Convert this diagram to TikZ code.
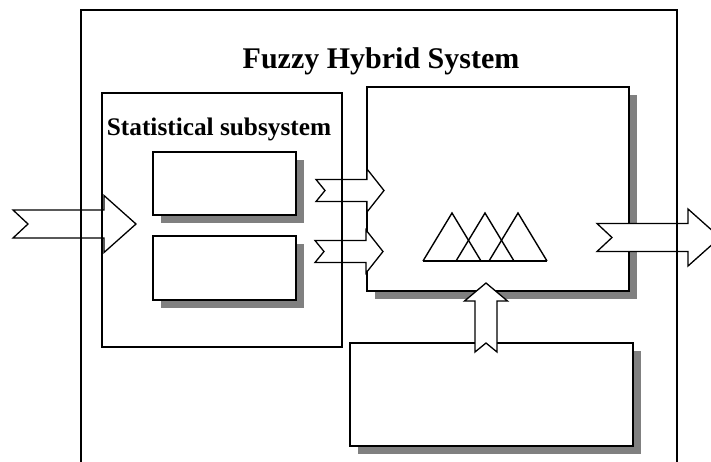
\documentclass[tikz,border=0pt]{standalone}
\usepackage{fontspec}
\setmainfont{Liberation Serif}
\usetikzlibrary{shadows}

\tikzset{
  pics/notcharrow/.style n args={5}{code={
    % #1 length, #2 half shaft, #3 half head, #4 head length, #5 notch
    \draw[arrowfill] (0,-#2) -- (#1-#4,-#2) -- (#1-#4,-#3) -- (#1,0)
      -- (#1-#4,#3) -- (#1-#4,#2) -- (0,#2) -- (#5,0) -- cycle;
  }}
}

\begin{document}
\begin{tikzpicture}[
    x=1pt, y=-1pt,
    box/.style={rectangle, draw=black, line width=1.6pt, fill=white,
                inner sep=0pt, outer sep=0pt},
    shadowbox/.style={box, drop shadow={fill=gray, opacity=1,
                shadow xshift=8pt, shadow yshift=-8pt}},
    outerframe/.style={rectangle, draw=black, line width=1.2pt, inner sep=0pt},
    arrowfill/.style={draw=black, fill=white, line width=1.3pt, line join=miter},
    tri/.style={draw=black, line width=1.4pt},
    heading/.style={font=\fontsize{30}{36}\selectfont\bfseries, inner sep=0pt},
    subheading/.style={font=\fontsize{25.3}{30}\selectfont\bfseries, inner sep=0pt}
]

    \useasboundingbox (0,0) rectangle (711,461);
    \clip (0,0) rectangle (711,461);

    % Inner blocks
    \node[shadowbox, minimum width=143pt, minimum height=63pt] (model1) at (224.5,183.5) {};
    \node[shadowbox, minimum width=143pt, minimum height=64pt] (model2) at (224.5,268) {};
    \node[shadowbox, minimum width=262pt, minimum height=204pt] (fuzzy) at (498,189) {};
    \node[shadowbox, minimum width=283pt, minimum height=103pt] (rules) at (491.5,394.5) {};

    % Membership functions
    \foreach \cx in {452,485,518}
        \draw[tri] (\cx-29,261) -- (\cx,213) -- (\cx+29,261);
    \draw[tri] (423,261) -- (547,261);

    % Block arrows
    \pic at (13,224) {notcharrow={123}{14}{28.5}{32}{15}};
    \pic at (316,190.5) {notcharrow={68}{11}{21.5}{17}{9}};
    \pic at (315,251.5) {notcharrow={68}{11}{21.5}{17}{9}};
    \pic at (597,237.5) {notcharrow={123}{14}{28.5}{32}{15}};
    \pic[rotate=90] at (486,352) {notcharrow={69}{11}{21.5}{18}{9}};

    % Subsystem and outer frame
    \node[box, fill=none, minimum width=240pt, minimum height=254pt] (stat) at (222,220) {};
    \node[outerframe, minimum width=596pt, minimum height=490pt] (system) at (379,255) {};

    % Labels
    \node[heading, anchor=base] (title) at (381,68) {Fuzzy Hybrid System};
    \node[subheading, anchor=base] (statlabel) at (219,135) {Statistical subsystem};

\end{tikzpicture}
\end{document}
